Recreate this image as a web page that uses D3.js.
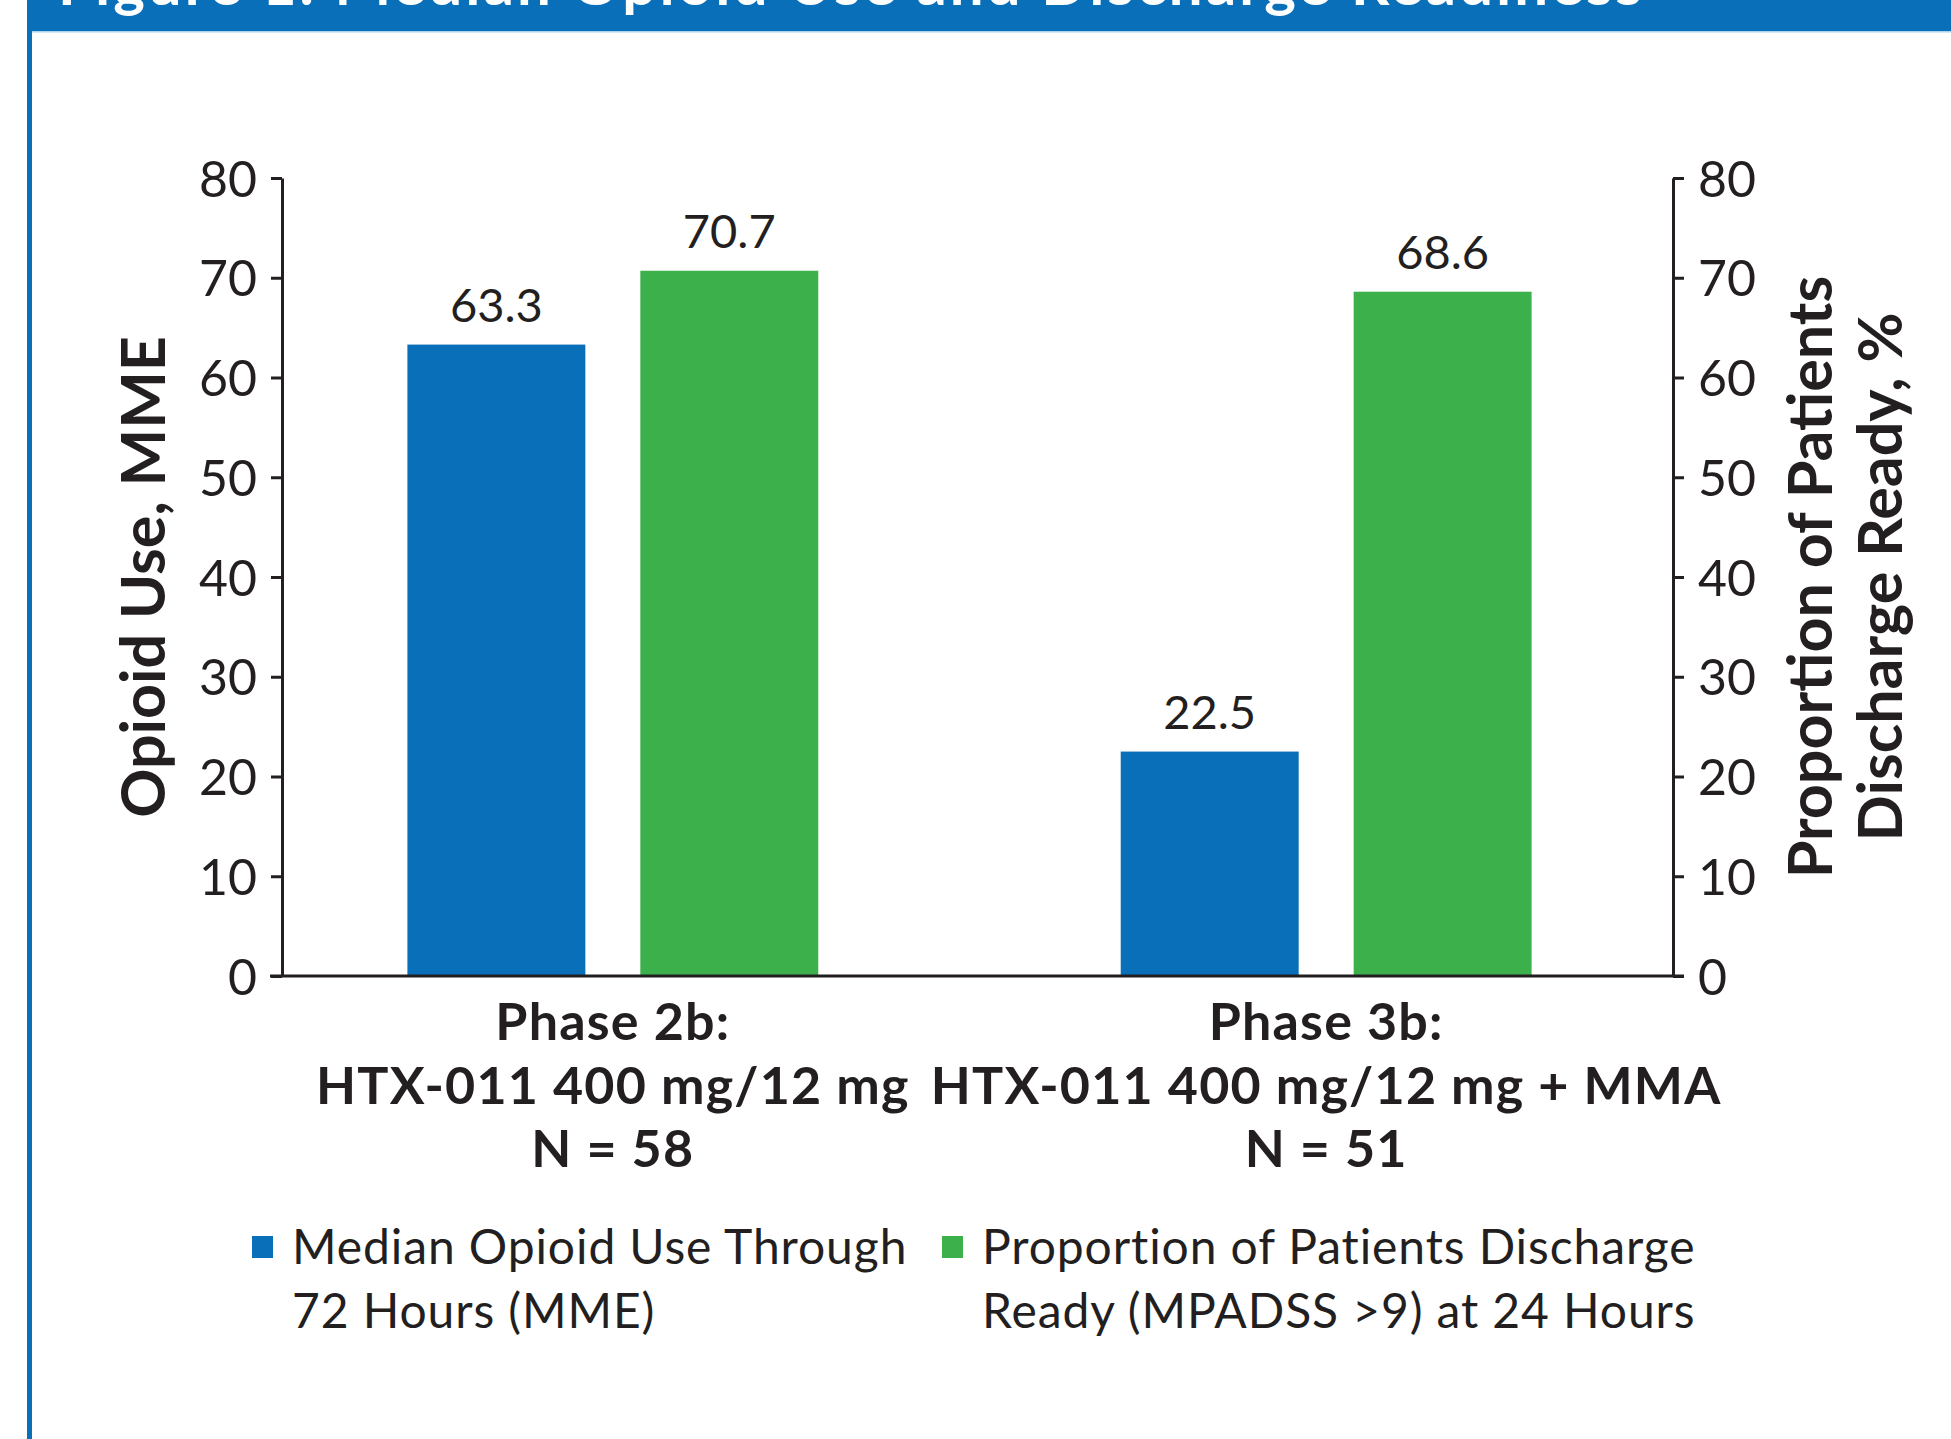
<!DOCTYPE html>
<html>
<head>
<meta charset="utf-8">
<script src="https://cdn.jsdelivr.net/npm/d3@7"></script>
<style>
  body { margin: 0; background: #fff; }
  text { font-family: Lato, "Open Sans", sans-serif; fill: #231f20; }
</style>
</head>
<body>
<div id="chart"></div>
<script>
// data
var categories = ["Phase 2b", "Phase 3b"];
var categoryLines = [
  ["Phase 2b:", "HTX-011 400 mg/12 mg", "N = 58"],
  ["Phase 3b:", "HTX-011 400 mg/12 mg + MMA", "N = 51"]
];
var seriesKeys = ["opioid", "discharge"];
var opioidUse = [63.3, 22.5];
var dischargeReady = [70.7, 68.6];
var yTicks = [0, 10, 20, 30, 40, 50, 60, 70, 80];
var legendLines = [
  ["Median Opioid Use Through", "72 Hours (MME)"],
  ["Proportion of Patients Discharge", "Ready (MPADSS >9) at 24 Hours"]
];
var titleText = "Figure 1. Median Opioid Use and Discharge Readiness";

var colors = { opioid: "#0a6fb9", discharge: "#3cb04a" };
var ink = "#231f20";

// svg area
var svgWidth = 1951;
var svgHeight = 1439;

var chartMargin = { top: 178, right: 278, bottom: 463, left: 282 };
var chartWidth = svgWidth - chartMargin.left - chartMargin.right;
var chartHeight = svgHeight - chartMargin.top - chartMargin.bottom;

var svg = d3.select("#chart")
  .append("svg")
  .attr("width", svgWidth)
  .attr("height", svgHeight);

// header band + left border of the figure box
svg.append("rect")
  .attr("x", 27).attr("y", 0)
  .attr("width", svgWidth - 27).attr("height", 31)
  .attr("fill", "#0a6fb9");
svg.append("rect")
  .attr("x", 32).attr("y", 31)
  .attr("width", svgWidth - 32).attr("height", 1.5)
  .attr("fill", "#a9d3ef");
svg.append("rect")
  .attr("x", 27).attr("y", 0)
  .attr("width", 5).attr("height", svgHeight)
  .attr("fill", "#0a6fb9");
// title is cropped at the top edge in the source figure
svg.append("text")
  .attr("x", 58).attr("y", 5)
  .style("fill", "#fff")
  .style("font-weight", 700)
  .style("font-size", "60px")
  .style("letter-spacing", "3px")
  .text(titleText);

var chartGroup = svg.append("g")
  .attr("transform", `translate(${chartMargin.left}, ${chartMargin.top})`);

// rows for the bars
var rows = categories.map(function(c, i) {
  return { category: c, opioid: opioidUse[i], discharge: dischargeReady[i] };
});

// scales
var x0 = d3.scaleBand()
  .domain(categories)
  .range([0, chartWidth])
  .paddingInner(0.424)
  .paddingOuter(0.187)
  .align(0.47);

var x1 = d3.scaleBand()
  .domain(seriesKeys)
  .range([0, x0.bandwidth()])
  .paddingInner(0.236);

var yLeft = d3.scaleLinear().domain([0, 80]).range([chartHeight, 0]);
var yRight = d3.scaleLinear().domain([0, 80]).range([chartHeight, 0]);
var yFor = { opioid: yLeft, discharge: yRight };

// axes
var leftAxis = d3.axisLeft(yLeft).tickValues(yTicks).tickSize(11).tickSizeOuter(0).tickPadding(14);
var rightAxis = d3.axisRight(yRight).tickValues(yTicks).tickSize(11).tickSizeOuter(0).tickPadding(14);
var bottomAxis = d3.axisBottom(x0).tickSize(0).tickSizeOuter(0).tickFormat("");

function styleAxis(g) {
  g.selectAll("path, line").attr("stroke", ink).attr("stroke-width", 3);
  g.selectAll("text")
    .style("font-size", "50px")
    .style("fill", ink)
    .attr("dy", "0.36em");
}

chartGroup.append("g").call(leftAxis).call(styleAxis);
chartGroup.append("g")
  .attr("transform", `translate(${chartWidth}, 0)`)
  .call(rightAxis).call(styleAxis);

// bars
var groups = chartGroup.selectAll(".grp")
  .data(rows)
  .enter()
  .append("g")
  .attr("class", "grp")
  .attr("transform", d => `translate(${x0(d.category)}, 0)`);

var cells = groups.selectAll(".bar")
  .data(d => seriesKeys.map(k => ({ key: k, value: d[k] })))
  .enter();

cells.append("rect")
  .attr("class", "bar")
  .attr("x", d => x1(d.key))
  .attr("y", d => yFor[d.key](d.value))
  .attr("width", x1.bandwidth())
  .attr("height", d => chartHeight - yFor[d.key](d.value))
  .attr("fill", d => colors[d.key]);

cells.append("text")
  .attr("x", d => x1(d.key) + x1.bandwidth() / 2)
  .attr("y", d => yFor[d.key](d.value) - 23)
  .attr("text-anchor", "middle")
  .style("font-size", "47px")
  .text(d => d.value.toFixed(1));

// baseline drawn over the bars
chartGroup.append("g")
  .attr("transform", `translate(0, ${chartHeight})`)
  .call(bottomAxis)
  .call(function(g) {
    g.select(".domain").attr("stroke", ink).attr("stroke-width", 3)
      .attr("d", `M-12,0H${chartWidth + 11}`);
  });

// category labels, three lines each
categories.forEach(function(c, i) {
  var cx = x0(c) + x0.bandwidth() / 2;
  var t = chartGroup.append("text")
    .attr("text-anchor", "middle")
    .attr("x", cx)
    .attr("y", chartHeight + 64)
    .style("font-weight", 700)
    .style("font-size", "52px")
    .style("letter-spacing", "1.2px");
  categoryLines[i].forEach(function(line, j) {
    t.append("tspan")
      .attr("x", cx)
      .attr("dy", j === 0 ? 0 : 63.5)
      .text(line);
  });
});

// axis titles
svg.append("text")
  .attr("transform", `translate(165, ${chartMargin.top + chartHeight / 2}) rotate(-90)`)
  .attr("text-anchor", "middle")
  .style("font-weight", 700)
  .style("font-size", "61px")
  .text("Opioid Use, MME");

var rightTitle = svg.append("text")
  .attr("transform", `translate(1832, ${chartMargin.top + chartHeight / 2}) rotate(-90)`)
  .attr("text-anchor", "middle")
  .style("font-weight", 700)
  .style("font-size", "61px");
rightTitle.append("tspan").attr("x", 0).attr("dy", 0).text("Proportion of Patients");
rightTitle.append("tspan").attr("x", 0).attr("dy", 70).text("Discharge Ready, %");

// legend
var legendX = [252, 942];
seriesKeys.forEach(function(k, i) {
  var lg = svg.append("g").attr("transform", `translate(${legendX[i]}, 1236)`);
  lg.append("rect")
    .attr("width", 21).attr("height", 22)
    .attr("fill", colors[k]);
  var t = lg.append("text")
    .attr("x", 40).attr("y", 28)
    .style("font-size", "48px")
    .style("letter-spacing", "0.9px");
  legendLines[i].forEach(function(line, j) {
    t.append("tspan").attr("x", 40).attr("dy", j === 0 ? 0 : 64).text(line);
  });
});
</script>
</body>
</html>
